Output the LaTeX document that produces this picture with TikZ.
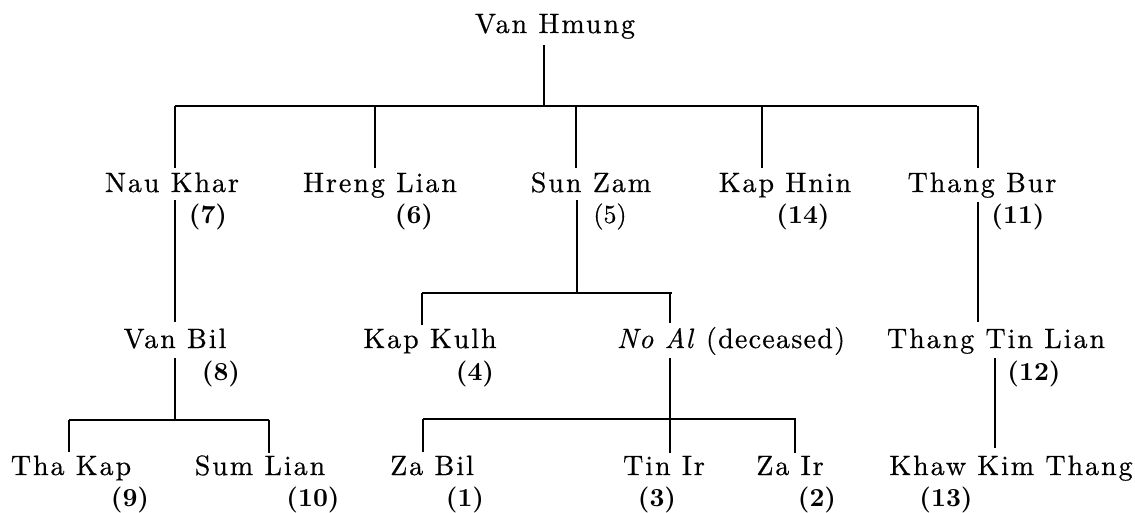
\documentclass[tikz,border=0pt]{standalone}
\usepackage{fontspec}
\setmainfont{lmroman10-regular}[Extension=.otf, BoldFont=lmroman10-bold, ItalicFont=lmroman10-italic, BoldItalicFont=lmroman10-bolditalic]
\newcommand\namefont{\fontsize{28}{30}\selectfont\addfontfeatures{LetterSpace=7,FakeBold=0.5}}
\newcommand\namefontn{\fontsize{28}{30}\selectfont\addfontfeatures{LetterSpace=4.5,FakeBold=0.5}}
\newcommand\numfont{\fontsize{26}{28}\selectfont\bfseries}
\newcommand\numfontr{\fontsize{26}{28}\selectfont\addfontfeatures{FakeBold=0.5}}
\tikzset{
  nm/.style={anchor=base, inner sep=0pt, font=\namefont},
  nmn/.style={anchor=base, inner sep=0pt, font=\namefontn},
  num/.style={anchor=base, inner sep=0pt, font=\numfont},
  numr/.style={anchor=base, inner sep=0pt, font=\numfontr},
  ln/.style={line width=1.5pt, line cap=butt}
}
\begin{document}
\begin{tikzpicture}[x=1pt,y=-1pt]
\useasboundingbox (0,0) rectangle (1135,512);
% names
\node[nm] (vh) at (555,33) {Van Hmung};
\node[nm] (nk) at (172,192) {Nau Khar};
\node[nm] (hl) at (380,192) {Hreng Lian};
\node[nm] (sz) at (591,192) {Sun Zam};
\node[nm] (kh) at (785,192) {Kap Hnin};
\node[nm] (tb) at (982,192) {Thang Bur};
\node[num] (n7) at (208,223) {(7)};
\node[num] (n6) at (414,223) {(6)};
\node[numr] (n5) at (610,223) {(5)};
\node[num] (n14) at (803,223) {(14)};
\node[num] (n11) at (1018,223) {(11)};
\node[nm] (vb) at (175,348) {Van Bil};
\node[nm] (kk) at (430,348) {Kap Kulh};
\node[nmn] (na) at (731,348) {\textit{No Al} (deceased)};
\node[nm] (ttl) at (996,348) {Thang Tin Lian};
\node[num] (n8) at (221,380) {(8)};
\node[num] (n4) at (475,380) {(4)};
\node[num] (n12) at (1034,380) {(12)};
\node[nm] (tk) at (71,475) {Tha Kap};
\node[nm] (sl) at (260,475) {Sum Lian};
\node[nm] (zb) at (432,475) {Za Bil};
\node[nm] (ti) at (664,475) {Tin Ir};
\node[nm] (zi) at (790,475) {Za Ir};
\node[nm] (kkt) at (1011,475) {Khaw Kim Thang};
\node[num] (n9) at (130,506) {(9)};
\node[num] (n10) at (313,506) {(10)};
\node[num] (n1) at (465,506) {(1)};
\node[num] (n3) at (657,506) {(3)};
\node[num] (n2) at (817,506) {(2)};
\node[num] (n13) at (946,506) {(13)};
% junction coordinates
\coordinate (vhs) at (544,45);  \coordinate (vhj) at (544,106);
\coordinate (barL) at (175,106); \coordinate (barR) at (977,106);
\coordinate (nkt) at (175,168); \coordinate (hlt) at (375,168);
\coordinate (szt) at (576,168); \coordinate (kht) at (762,168);
\coordinate (tbt) at (978,168);
\coordinate (nks) at (175,200); \coordinate (vbt) at (175,322);
\coordinate (szs) at (577,200); \coordinate (szj) at (577,293);
\coordinate (sbL) at (422,293); \coordinate (sbR) at (672,293);
\coordinate (kkt2) at (422,325); \coordinate (nat) at (670,323);
\coordinate (tbs) at (978,202); \coordinate (ttlt) at (978,322);
\coordinate (vbs) at (175,358); \coordinate (vbj) at (175,420);
\coordinate (vbL) at (69,420); \coordinate (vbR) at (269,420);
\coordinate (tkt) at (69,452); \coordinate (slt) at (269,453);
\coordinate (nas) at (670,358); \coordinate (naj) at (670,419);
\coordinate (naL) at (423,419); \coordinate (naR) at (796,419);
\coordinate (zbt) at (423,452); \coordinate (tit) at (670,453);
\coordinate (zit) at (795,453);
\coordinate (ttls) at (995,358); \coordinate (kktt) at (995,448);
% connectors
\draw[ln] (vhs) -- (vhj);
\draw[ln] (barL) -- (barR);
\draw[ln] (barL) -- (nkt);
\draw[ln] (hlt |- barL) -- (hlt);
\draw[ln] (szt |- barL) -- (szt);
\draw[ln] (kht |- barL) -- (kht);
\draw[ln] (tbt |- barL) -- (tbt);
\draw[ln] (nks) -- (vbt);
\draw[ln] (szs) -- (szj);
\draw[ln] (sbL) -- (sbR);
\draw[ln] (sbL) -- (kkt2);
\draw[ln] (nat |- sbL) -- (nat);
\draw[ln] (tbs) -- (ttlt);
\draw[ln] (vbs) -- (vbj);
\draw[ln] (vbL) -- (vbR);
\draw[ln] (vbL) -- (tkt);
\draw[ln] (vbR) -- (slt);
\draw[ln] (nas) -- (naj);
\draw[ln] (naL) -- (naR);
\draw[ln] (naL) -- (zbt);
\draw[ln] (tit |- naL) -- (tit);
\draw[ln] (zit |- naL) -- (zit);
\draw[ln] (ttls) -- (kktt);
\end{tikzpicture}
\end{document}
